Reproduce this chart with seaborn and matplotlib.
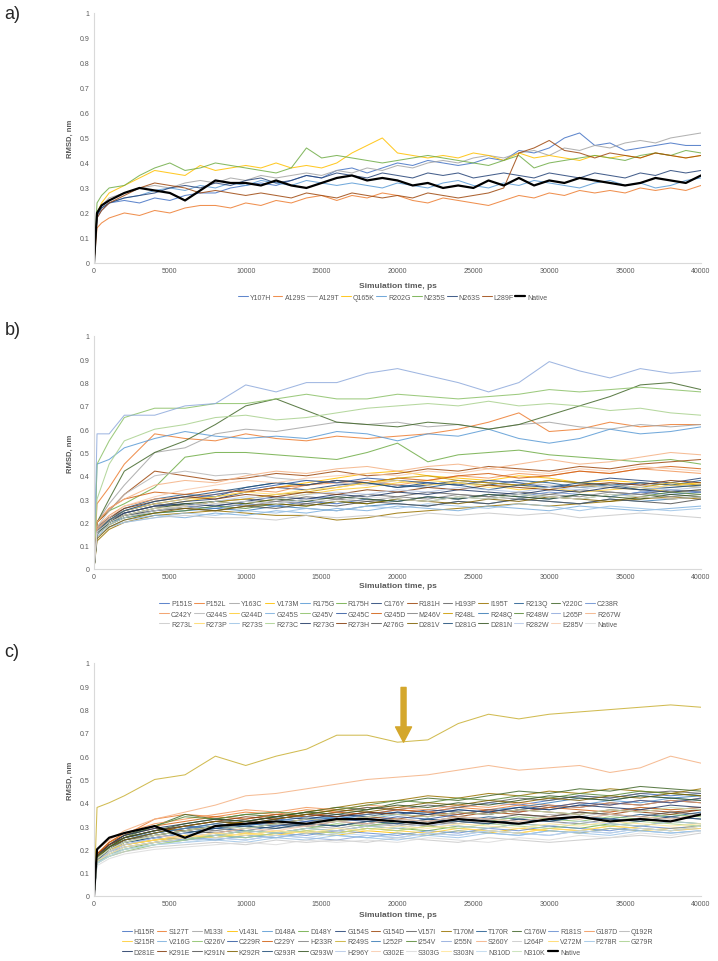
import matplotlib
matplotlib.use('Agg')
import matplotlib.pyplot as plt
import seaborn as sns

sns.set_style('white')
plt.rcParams['font.family'] = ['Liberation Sans', 'DejaVu Sans']

# === DATOS ===
# tiempos de muestreo (ps)
time_a = [0, 200, 500, 1000, 2000, 3000, 4000, 5000, 6000, 7000, 8000, 9000, 10000,
          11000, 12000, 13000, 14000, 15000, 16000, 17000, 18000, 19000, 20000,
          21000, 22000, 23000, 24000, 25000, 26000, 27000, 28000, 29000, 30000,
          31000, 32000, 33000, 34000, 35000, 36000, 37000, 38000, 39000, 40000]
time_bc = [0, 200, 1000, 2000, 4000, 6000, 8000, 10000, 12000, 14000, 16000, 18000,
           20000, 22000, 24000, 26000, 28000, 30000, 32000, 34000, 36000, 38000, 40000]

y_ticks = [0, 0.1, 0.2, 0.3, 0.4, 0.5, 0.6, 0.7, 0.8, 0.9, 1]
y_tick_labels = ['0', '0.1', '0.2', '0.3', '0.4', '0.5', '0.6', '0.7', '0.8', '0.9', '1']
x_ticks = [0, 5000, 10000, 15000, 20000, 25000, 30000, 35000, 40000]
x_tick_labels = ['0', '5000', '10000', '15000', '20000', '25000', '30000', '35000', '40000']

# paleta por defecto de Excel (orden de series)
excel_colors = ['#4472C4', '#ED7D31', '#A5A5A5', '#FFC000', '#5B9BD5', '#70AD47',
                '#264478', '#9E480E', '#636363', '#997300', '#255E91', '#43682B',
                '#698ED0', '#F1975A', '#B7B7B7', '#FFCD33', '#7CAFDD', '#8CC168',
                '#335AA1', '#D26012', '#848484', '#CC9A00', '#3B7CB5', '#5A8A39',
                '#8FAADC', '#F4B183', '#C9C9C9', '#FFD966', '#9DC3E6', '#A9D18E',
                '#203864', '#843C0C', '#525252', '#7F6000', '#1F4E79', '#375623',
                '#B4C7E7', '#F8CBAD', '#DBDBDB', '#FFE699', '#BDD7EE', '#C5E0B4']

# --- panel a) ---
names_a = ['Y107H', 'A129S', 'A129T', 'Q165K', 'R202G', 'N235S', 'N263S', 'L289F', 'Native']
rmsd_a = {
    'Y107H': [0, 0.18, 0.21, 0.24, 0.25, 0.24, 0.26, 0.25, 0.27, 0.28, 0.28, 0.30, 0.31, 0.32, 0.31,
              0.33, 0.35, 0.34, 0.37, 0.38, 0.36, 0.38, 0.40, 0.39, 0.41, 0.40, 0.39, 0.40, 0.42,
              0.41, 0.45, 0.44, 0.46, 0.50, 0.52, 0.47, 0.48, 0.45, 0.46, 0.47, 0.48, 0.47, 0.47],
    'A129S': [0, 0.14, 0.16, 0.18, 0.20, 0.19, 0.21, 0.20, 0.22, 0.23, 0.23, 0.22, 0.24, 0.23, 0.25,
              0.24, 0.26, 0.27, 0.25, 0.27, 0.26, 0.28, 0.27, 0.25, 0.24, 0.26, 0.25, 0.24, 0.23,
              0.25, 0.27, 0.26, 0.28, 0.27, 0.29, 0.28, 0.29, 0.28, 0.30, 0.29, 0.30, 0.29, 0.31],
    'A129T': [0, 0.20, 0.23, 0.26, 0.28, 0.30, 0.31, 0.30, 0.32, 0.33, 0.32, 0.34, 0.33, 0.35, 0.34,
              0.35, 0.36, 0.35, 0.37, 0.36, 0.38, 0.37, 0.39, 0.38, 0.40, 0.41, 0.40, 0.42, 0.43,
              0.42, 0.44, 0.45, 0.43, 0.46, 0.45, 0.47, 0.46, 0.48, 0.49, 0.48, 0.50, 0.51, 0.52],
    'Q165K': [0, 0.20, 0.24, 0.28, 0.31, 0.34, 0.37, 0.36, 0.35, 0.39, 0.37, 0.38, 0.39, 0.38, 0.40,
              0.38, 0.39, 0.38, 0.40, 0.44, 0.47, 0.50, 0.44, 0.43, 0.42, 0.43, 0.42, 0.44, 0.43,
              0.41, 0.44, 0.42, 0.43, 0.42, 0.41, 0.43, 0.42, 0.43, 0.42, 0.44, 0.43, 0.42, 0.43],
    'R202G': [0, 0.19, 0.22, 0.24, 0.26, 0.27, 0.29, 0.30, 0.29, 0.31, 0.30, 0.32, 0.31, 0.33, 0.32,
              0.31, 0.33, 0.32, 0.31, 0.32, 0.31, 0.30, 0.32, 0.31, 0.30, 0.32, 0.33, 0.31, 0.30,
              0.32, 0.31, 0.33, 0.32, 0.31, 0.30, 0.32, 0.33, 0.31, 0.32, 0.30, 0.31, 0.33, 0.34],
    'N235S': [0, 0.24, 0.27, 0.30, 0.31, 0.35, 0.38, 0.40, 0.37, 0.38, 0.40, 0.39, 0.38, 0.37, 0.36,
              0.38, 0.46, 0.42, 0.43, 0.42, 0.41, 0.40, 0.41, 0.42, 0.43, 0.42, 0.41, 0.40, 0.39,
              0.41, 0.43, 0.38, 0.40, 0.41, 0.42, 0.43, 0.42, 0.41, 0.43, 0.44, 0.43, 0.45, 0.44],
    'N263S': [0, 0.19, 0.22, 0.24, 0.26, 0.27, 0.28, 0.30, 0.31, 0.30, 0.32, 0.31, 0.33, 0.34, 0.32,
              0.33, 0.35, 0.34, 0.36, 0.35, 0.34, 0.36, 0.35, 0.34, 0.36, 0.35, 0.36, 0.34, 0.35,
              0.36, 0.35, 0.34, 0.36, 0.35, 0.34, 0.36, 0.35, 0.34, 0.36, 0.35, 0.37, 0.36, 0.37],
    'L289F': [0, 0.18, 0.21, 0.24, 0.27, 0.30, 0.32, 0.31, 0.30, 0.28, 0.29, 0.28, 0.27, 0.28, 0.27,
              0.26, 0.28, 0.27, 0.26, 0.28, 0.27, 0.26, 0.27, 0.26, 0.28, 0.27, 0.26, 0.27, 0.28,
              0.30, 0.44, 0.46, 0.49, 0.45, 0.44, 0.42, 0.44, 0.43, 0.42, 0.44, 0.43, 0.42, 0.43],
    'Native': [0, 0.20, 0.23, 0.25, 0.28, 0.30, 0.29, 0.28, 0.25, 0.29, 0.33, 0.32, 0.32, 0.31, 0.33,
               0.31, 0.30, 0.32, 0.34, 0.35, 0.33, 0.34, 0.33, 0.31, 0.32, 0.30, 0.31, 0.30, 0.33,
               0.31, 0.34, 0.31, 0.33, 0.32, 0.34, 0.33, 0.32, 0.31, 0.32, 0.34, 0.33, 0.32, 0.35],
}

# --- panel b) ---
names_b = ['P151S', 'P152L', 'Y163C', 'V173M', 'R175G', 'R175H', 'C176Y', 'R181H', 'H193P',
           'I195T', 'R213Q', 'Y220C', 'C238R', 'C242Y', 'G244S', 'G244D', 'G245S', 'G245V',
           'G245C', 'G245D', 'M246V', 'R248L', 'R248Q', 'R248W', 'L265P', 'R267W', 'R273L',
           'R273P', 'R273S', 'R273C', 'R273G', 'R273H', 'A276G', 'D281V', 'D281G', 'D281N',
           'R282W', 'E285V', 'Native']
rmsd_b = {
    'P151S': [0, 0.15, 0.2, 0.23, 0.25, 0.27, 0.26, 0.28, 0.27, 0.29, 0.28, 0.3, 0.29, 0.31, 0.3, 0.32, 0.31, 0.3, 0.32, 0.31, 0.33, 0.32, 0.33],
    'P152L': [0, 0.28, 0.35, 0.45, 0.58, 0.56, 0.55, 0.58, 0.56, 0.55, 0.57, 0.56, 0.57, 0.58, 0.6, 0.63, 0.67, 0.59, 0.6, 0.63, 0.61, 0.62, 0.62],
    'Y163C': [0, 0.2, 0.28, 0.36, 0.5, 0.52, 0.58, 0.6, 0.59, 0.61, 0.63, 0.62, 0.63, 0.61, 0.62, 0.6, 0.62, 0.63, 0.61, 0.6, 0.62, 0.61, 0.62],
    'V173M': [0, 0.15, 0.2, 0.24, 0.27, 0.29, 0.31, 0.33, 0.35, 0.37, 0.39, 0.41, 0.42, 0.4, 0.39, 0.38, 0.4, 0.39, 0.37, 0.38, 0.37, 0.36, 0.37],
    'R175G': [0, 0.45, 0.47, 0.52, 0.56, 0.59, 0.57, 0.56, 0.57, 0.56, 0.59, 0.58, 0.55, 0.58, 0.57, 0.6, 0.56, 0.54, 0.56, 0.6, 0.58, 0.59, 0.61],
    'R175H': [0, 0.2, 0.25, 0.28, 0.35, 0.48, 0.5, 0.5, 0.49, 0.48, 0.47, 0.5, 0.54, 0.46, 0.49, 0.5, 0.51, 0.49, 0.48, 0.47, 0.46, 0.47, 0.45],
    'C176Y': [0, 0.16, 0.21, 0.24, 0.27, 0.29, 0.3, 0.33, 0.35, 0.34, 0.36, 0.37, 0.35, 0.36, 0.38, 0.37, 0.36, 0.38, 0.37, 0.39, 0.38, 0.37, 0.39],
    'R181H': [0, 0.2, 0.25, 0.32, 0.42, 0.4, 0.38, 0.39, 0.41, 0.4, 0.42, 0.4, 0.41, 0.43, 0.42, 0.44, 0.43, 0.42, 0.44, 0.43, 0.45, 0.46, 0.47],
    'H193P': [0, 0.17, 0.22, 0.25, 0.28, 0.27, 0.29, 0.3, 0.29, 0.31, 0.3, 0.32, 0.31, 0.33, 0.32, 0.31, 0.33, 0.32, 0.34, 0.33, 0.32, 0.34, 0.33],
    'I195T': [0, 0.12, 0.17, 0.2, 0.23, 0.24, 0.25, 0.24, 0.23, 0.23, 0.21, 0.22, 0.24, 0.25, 0.26, 0.27, 0.28, 0.27, 0.28, 0.29, 0.3, 0.31, 0.3],
    'R213Q': [0, 0.18, 0.22, 0.26, 0.3, 0.32, 0.31, 0.35, 0.37, 0.36, 0.38, 0.37, 0.36, 0.35, 0.37, 0.36, 0.38, 0.37, 0.35, 0.36, 0.37, 0.36, 0.38],
    'Y220C': [0, 0.2, 0.3, 0.42, 0.5, 0.55, 0.62, 0.7, 0.73, 0.68, 0.63, 0.62, 0.61, 0.63, 0.62, 0.6, 0.62, 0.66, 0.7, 0.74, 0.79, 0.8, 0.77],
    'C238R': [0, 0.17, 0.21, 0.24, 0.27, 0.28, 0.27, 0.29, 0.28, 0.3, 0.31, 0.3, 0.29, 0.31, 0.3, 0.32, 0.31, 0.33, 0.32, 0.31, 0.33, 0.34, 0.33],
    'C242Y': [0, 0.18, 0.23, 0.27, 0.3, 0.31, 0.32, 0.34, 0.33, 0.36, 0.37, 0.38, 0.36, 0.38, 0.4, 0.39, 0.41, 0.4, 0.42, 0.41, 0.43, 0.42, 0.41],
    'G244S': [0, 0.18, 0.25, 0.32, 0.4, 0.42, 0.4, 0.41, 0.39, 0.38, 0.37, 0.36, 0.38, 0.37, 0.36, 0.38, 0.37, 0.36, 0.35, 0.37, 0.36, 0.35, 0.36],
    'G244D': [0, 0.16, 0.2, 0.23, 0.26, 0.27, 0.29, 0.28, 0.3, 0.32, 0.34, 0.35, 0.37, 0.38, 0.37, 0.36, 0.34, 0.35, 0.33, 0.34, 0.35, 0.33, 0.34],
    'G245S': [0, 0.14, 0.18, 0.21, 0.23, 0.22, 0.24, 0.23, 0.25, 0.24, 0.26, 0.25, 0.27, 0.26, 0.25, 0.27, 0.26, 0.25, 0.27, 0.26, 0.25, 0.26, 0.27],
    'G245V': [0, 0.45, 0.55, 0.65, 0.69, 0.69, 0.71, 0.71, 0.73, 0.75, 0.73, 0.73, 0.75, 0.74, 0.73, 0.74, 0.75, 0.77, 0.76, 0.77, 0.78, 0.77, 0.76],
    'G245C': [0, 0.16, 0.21, 0.25, 0.28, 0.3, 0.32, 0.34, 0.36, 0.38, 0.37, 0.39, 0.38, 0.37, 0.36, 0.38, 0.37, 0.35, 0.36, 0.35, 0.37, 0.36, 0.35],
    'G245D': [0, 0.2, 0.26, 0.3, 0.33, 0.32, 0.34, 0.33, 0.35, 0.36, 0.38, 0.37, 0.39, 0.38, 0.4, 0.41, 0.39, 0.4, 0.42, 0.41, 0.43, 0.44, 0.43],
    'M246V': [0, 0.17, 0.21, 0.24, 0.27, 0.26, 0.28, 0.27, 0.29, 0.28, 0.3, 0.29, 0.31, 0.3, 0.32, 0.31, 0.3, 0.32, 0.31, 0.33, 0.32, 0.31, 0.32],
    'R248L': [0, 0.15, 0.19, 0.22, 0.25, 0.27, 0.29, 0.3, 0.32, 0.33, 0.35, 0.37, 0.39, 0.4, 0.38, 0.37, 0.36, 0.38, 0.37, 0.36, 0.35, 0.37, 0.36],
    'R248Q': [0, 0.16, 0.2, 0.22, 0.24, 0.25, 0.26, 0.25, 0.27, 0.26, 0.25, 0.27, 0.28, 0.27, 0.29, 0.28, 0.3, 0.29, 0.28, 0.3, 0.29, 0.3, 0.31],
    'R248W': [0, 0.15, 0.19, 0.22, 0.24, 0.25, 0.27, 0.26, 0.28, 0.27, 0.29, 0.28, 0.3, 0.29, 0.31, 0.3, 0.32, 0.31, 0.3, 0.32, 0.31, 0.33, 0.32],
    'L265P': [0, 0.58, 0.58, 0.66, 0.66, 0.7, 0.71, 0.79, 0.76, 0.8, 0.8, 0.84, 0.86, 0.83, 0.8, 0.76, 0.8, 0.89, 0.85, 0.82, 0.86, 0.84, 0.85],
    'R267W': [0, 0.2, 0.26, 0.3, 0.36, 0.38, 0.37, 0.4, 0.42, 0.41, 0.43, 0.44, 0.42, 0.44, 0.45, 0.43, 0.45, 0.47, 0.45, 0.46, 0.48, 0.5, 0.49],
    'R273L': [0, 0.14, 0.18, 0.2, 0.22, 0.23, 0.22, 0.22, 0.21, 0.23, 0.22, 0.23, 0.22, 0.24, 0.23, 0.24, 0.23, 0.24, 0.22, 0.23, 0.24, 0.23, 0.22],
    'R273P': [0, 0.16, 0.21, 0.25, 0.28, 0.3, 0.31, 0.33, 0.32, 0.34, 0.35, 0.37, 0.38, 0.36, 0.37, 0.35, 0.36, 0.34, 0.36, 0.35, 0.34, 0.36, 0.35],
    'R273S': [0, 0.14, 0.18, 0.2, 0.22, 0.24, 0.23, 0.25, 0.24, 0.26, 0.25, 0.27, 0.26, 0.28, 0.27, 0.26, 0.28, 0.27, 0.25, 0.27, 0.26, 0.25, 0.26],
    'R273C': [0, 0.3, 0.45, 0.55, 0.6, 0.62, 0.65, 0.66, 0.64, 0.65, 0.67, 0.69, 0.7, 0.71, 0.7, 0.72, 0.7, 0.71, 0.7, 0.68, 0.69, 0.67, 0.66],
    'R273G': [0, 0.15, 0.2, 0.24, 0.27, 0.28, 0.27, 0.29, 0.31, 0.3, 0.32, 0.31, 0.33, 0.32, 0.34, 0.33, 0.32, 0.34, 0.33, 0.35, 0.34, 0.33, 0.34],
    'R273H': [0, 0.17, 0.22, 0.26, 0.29, 0.31, 0.3, 0.32, 0.31, 0.33, 0.32, 0.34, 0.33, 0.35, 0.34, 0.36, 0.35, 0.34, 0.36, 0.37, 0.36, 0.38, 0.37],
    'A276G': [0, 0.16, 0.2, 0.23, 0.25, 0.26, 0.25, 0.27, 0.26, 0.28, 0.27, 0.29, 0.28, 0.27, 0.29, 0.28, 0.3, 0.29, 0.28, 0.3, 0.29, 0.28, 0.3],
    'D281V': [0, 0.13, 0.18, 0.21, 0.24, 0.26, 0.25, 0.27, 0.28, 0.27, 0.29, 0.28, 0.3, 0.29, 0.28, 0.3, 0.29, 0.31, 0.3, 0.29, 0.31, 0.3, 0.31],
    'D281G': [0, 0.16, 0.21, 0.25, 0.29, 0.31, 0.33, 0.35, 0.37, 0.36, 0.38, 0.37, 0.35, 0.37, 0.36, 0.34, 0.36, 0.35, 0.37, 0.36, 0.34, 0.35, 0.36],
    'D281N': [0, 0.15, 0.2, 0.23, 0.26, 0.28, 0.29, 0.28, 0.3, 0.29, 0.31, 0.3, 0.29, 0.31, 0.3, 0.32, 0.31, 0.3, 0.32, 0.31, 0.3, 0.32, 0.31],
    'R282W': [0, 0.15, 0.19, 0.22, 0.25, 0.27, 0.29, 0.31, 0.3, 0.32, 0.33, 0.32, 0.34, 0.33, 0.35, 0.34, 0.33, 0.35, 0.34, 0.36, 0.35, 0.34, 0.35],
    'E285V': [0, 0.17, 0.22, 0.27, 0.31, 0.34, 0.36, 0.38, 0.37, 0.39, 0.4, 0.41, 0.4, 0.42, 0.41, 0.43, 0.42, 0.41, 0.43, 0.42, 0.44, 0.43, 0.42],
    'Native': [0, 0.16, 0.2, 0.23, 0.26, 0.27, 0.28, 0.29, 0.28, 0.3, 0.29, 0.31, 0.3, 0.29, 0.31, 0.3, 0.32, 0.31, 0.3, 0.32, 0.31, 0.3, 0.31],
}

# --- panel c) ---
names_c = ['H115R', 'S127T', 'M133I', 'V143L', 'D148A', 'D148Y', 'G154S', 'G154D', 'V157I',
           'T170M', 'T170R', 'C176W', 'R181S', 'G187D', 'Q192R', 'S215R', 'V216G', 'G226V',
           'C229R', 'C229Y', 'H233R', 'R249S', 'L252P', 'I254V', 'I255N', 'S260Y', 'L264P',
           'V272M', 'P278R', 'G279R', 'D281E', 'K291E', 'K291N', 'K292R', 'G293R', 'G293W',
           'H296Y', 'G302E', 'S303G', 'S303N', 'N310D', 'N310K', 'Native']
rmsd_c = {
    'H115R': [0, 0.16, 0.2, 0.23, 0.26, 0.28, 0.3, 0.31, 0.33, 0.32, 0.34, 0.35, 0.37, 0.36, 0.38, 0.4, 0.39, 0.41, 0.43, 0.42, 0.44, 0.43, 0.44],
    'S127T': [0, 0.18, 0.22, 0.26, 0.33, 0.35, 0.34, 0.36, 0.35, 0.37, 0.36, 0.38, 0.37, 0.36, 0.38, 0.37, 0.39, 0.38, 0.4, 0.39, 0.41, 0.4, 0.42],
    'M133I': [0, 0.15, 0.19, 0.22, 0.24, 0.26, 0.28, 0.27, 0.29, 0.3, 0.29, 0.31, 0.3, 0.32, 0.31, 0.33, 0.32, 0.34, 0.33, 0.35, 0.34, 0.33, 0.35],
    'V143L': [0, 0.17, 0.2, 0.22, 0.24, 0.25, 0.27, 0.26, 0.28, 0.27, 0.26, 0.28, 0.27, 0.26, 0.28, 0.27, 0.29, 0.28, 0.27, 0.29, 0.28, 0.29, 0.3],
    'D148A': [0, 0.16, 0.21, 0.25, 0.27, 0.29, 0.3, 0.32, 0.31, 0.33, 0.34, 0.33, 0.35, 0.36, 0.35, 0.37, 0.38, 0.37, 0.39, 0.41, 0.4, 0.42, 0.41],
    'D148Y': [0, 0.15, 0.18, 0.2, 0.23, 0.25, 0.26, 0.28, 0.27, 0.29, 0.28, 0.3, 0.29, 0.28, 0.3, 0.29, 0.31, 0.3, 0.29, 0.31, 0.3, 0.32, 0.31],
    'G154S': [0, 0.17, 0.22, 0.25, 0.28, 0.3, 0.32, 0.31, 0.33, 0.35, 0.34, 0.36, 0.35, 0.37, 0.36, 0.35, 0.37, 0.39, 0.38, 0.4, 0.39, 0.41, 0.4],
    'G154D': [0, 0.18, 0.23, 0.26, 0.29, 0.28, 0.3, 0.32, 0.31, 0.33, 0.32, 0.34, 0.33, 0.35, 0.34, 0.36, 0.35, 0.34, 0.36, 0.35, 0.37, 0.36, 0.37],
    'V157I': [0, 0.16, 0.21, 0.24, 0.27, 0.29, 0.31, 0.33, 0.35, 0.34, 0.36, 0.38, 0.37, 0.39, 0.38, 0.4, 0.42, 0.41, 0.43, 0.42, 0.44, 0.45, 0.44],
    'T170M': [0, 0.15, 0.2, 0.23, 0.26, 0.28, 0.3, 0.32, 0.34, 0.36, 0.38, 0.4, 0.41, 0.43, 0.42, 0.44, 0.43, 0.45, 0.44, 0.46, 0.45, 0.44, 0.46],
    'T170R': [0, 0.16, 0.2, 0.23, 0.25, 0.27, 0.29, 0.28, 0.3, 0.31, 0.3, 0.32, 0.31, 0.33, 0.32, 0.34, 0.33, 0.32, 0.34, 0.33, 0.35, 0.34, 0.36],
    'C176W': [0, 0.17, 0.22, 0.26, 0.3, 0.35, 0.33, 0.35, 0.34, 0.36, 0.38, 0.37, 0.4, 0.42, 0.41, 0.43, 0.45, 0.44, 0.46, 0.45, 0.47, 0.46, 0.45],
    'R181S': [0, 0.15, 0.19, 0.22, 0.25, 0.24, 0.26, 0.25, 0.27, 0.26, 0.28, 0.27, 0.26, 0.28, 0.27, 0.29, 0.28, 0.3, 0.29, 0.28, 0.3, 0.29, 0.3],
    'G187D': [0, 0.18, 0.23, 0.27, 0.31, 0.33, 0.35, 0.37, 0.36, 0.38, 0.37, 0.39, 0.38, 0.37, 0.39, 0.38, 0.4, 0.39, 0.38, 0.4, 0.39, 0.41, 0.4],
    'Q192R': [0, 0.15, 0.18, 0.21, 0.23, 0.25, 0.24, 0.26, 0.25, 0.27, 0.28, 0.3, 0.31, 0.3, 0.32, 0.31, 0.33, 0.35, 0.34, 0.36, 0.38, 0.37, 0.38],
    'S215R': [0, 0.16, 0.2, 0.22, 0.24, 0.26, 0.25, 0.27, 0.26, 0.28, 0.27, 0.29, 0.28, 0.27, 0.29, 0.28, 0.27, 0.29, 0.28, 0.3, 0.29, 0.28, 0.3],
    'V216G': [0, 0.14, 0.18, 0.21, 0.23, 0.25, 0.24, 0.26, 0.25, 0.27, 0.26, 0.25, 0.27, 0.26, 0.28, 0.27, 0.26, 0.28, 0.27, 0.29, 0.28, 0.27, 0.28],
    'G226V': [0, 0.15, 0.17, 0.19, 0.22, 0.24, 0.26, 0.28, 0.27, 0.29, 0.31, 0.3, 0.32, 0.31, 0.33, 0.32, 0.34, 0.33, 0.32, 0.34, 0.33, 0.35, 0.34],
    'C229R': [0, 0.17, 0.22, 0.25, 0.28, 0.3, 0.29, 0.31, 0.3, 0.32, 0.33, 0.32, 0.34, 0.33, 0.35, 0.37, 0.36, 0.38, 0.4, 0.39, 0.41, 0.4, 0.42],
    'C229Y': [0, 0.18, 0.23, 0.27, 0.3, 0.32, 0.34, 0.33, 0.35, 0.34, 0.36, 0.35, 0.37, 0.36, 0.35, 0.37, 0.36, 0.38, 0.37, 0.36, 0.38, 0.37, 0.38],
    'H233R': [0, 0.16, 0.2, 0.24, 0.27, 0.29, 0.28, 0.3, 0.29, 0.31, 0.3, 0.32, 0.31, 0.3, 0.32, 0.31, 0.33, 0.32, 0.31, 0.33, 0.32, 0.34, 0.33],
    'R249S': [0, 0.38, 0.4, 0.43, 0.5, 0.52, 0.6, 0.56, 0.6, 0.63, 0.69, 0.69, 0.66, 0.67, 0.74, 0.78, 0.76, 0.78, 0.79, 0.8, 0.81, 0.82, 0.81],
    'L252P': [0, 0.16, 0.21, 0.24, 0.27, 0.29, 0.31, 0.3, 0.32, 0.34, 0.33, 0.35, 0.36, 0.35, 0.37, 0.36, 0.38, 0.4, 0.42, 0.41, 0.43, 0.42, 0.43],
    'I254V': [0, 0.17, 0.21, 0.25, 0.3, 0.34, 0.33, 0.35, 0.36, 0.35, 0.37, 0.39, 0.41, 0.4, 0.42, 0.41, 0.43, 0.42, 0.44, 0.43, 0.45, 0.44, 0.43],
    'I255N': [0, 0.15, 0.19, 0.21, 0.23, 0.24, 0.25, 0.24, 0.26, 0.25, 0.24, 0.26, 0.25, 0.27, 0.26, 0.28, 0.27, 0.26, 0.28, 0.27, 0.29, 0.28, 0.29],
    'S260Y': [0, 0.2, 0.24, 0.28, 0.33, 0.36, 0.39, 0.43, 0.44, 0.46, 0.48, 0.5, 0.51, 0.52, 0.54, 0.56, 0.54, 0.55, 0.56, 0.53, 0.55, 0.6, 0.57],
    'L264P': [0, 0.14, 0.17, 0.19, 0.21, 0.22, 0.23, 0.22, 0.24, 0.23, 0.24, 0.23, 0.25, 0.24, 0.23, 0.25, 0.24, 0.23, 0.24, 0.25, 0.26, 0.25, 0.27],
    'V272M': [0, 0.16, 0.19, 0.22, 0.24, 0.26, 0.25, 0.27, 0.26, 0.28, 0.27, 0.29, 0.28, 0.3, 0.29, 0.28, 0.27, 0.29, 0.28, 0.3, 0.29, 0.28, 0.29],
    'P278R': [0, 0.14, 0.18, 0.2, 0.22, 0.23, 0.24, 0.23, 0.25, 0.24, 0.26, 0.25, 0.24, 0.26, 0.25, 0.27, 0.26, 0.28, 0.27, 0.26, 0.28, 0.27, 0.28],
    'G279R': [0, 0.14, 0.17, 0.2, 0.22, 0.24, 0.26, 0.25, 0.27, 0.28, 0.27, 0.29, 0.28, 0.3, 0.29, 0.31, 0.3, 0.29, 0.31, 0.3, 0.32, 0.31, 0.3],
    'D281E': [0, 0.17, 0.22, 0.26, 0.29, 0.31, 0.33, 0.32, 0.34, 0.33, 0.35, 0.34, 0.36, 0.35, 0.37, 0.36, 0.38, 0.37, 0.39, 0.38, 0.37, 0.39, 0.38],
    'K291E': [0, 0.18, 0.22, 0.25, 0.28, 0.3, 0.32, 0.34, 0.33, 0.35, 0.34, 0.36, 0.35, 0.34, 0.36, 0.35, 0.37, 0.36, 0.35, 0.37, 0.36, 0.35, 0.37],
    'K291N': [0, 0.16, 0.2, 0.24, 0.26, 0.28, 0.27, 0.29, 0.31, 0.3, 0.32, 0.31, 0.33, 0.32, 0.34, 0.33, 0.35, 0.34, 0.36, 0.35, 0.34, 0.36, 0.35],
    'K292R': [0, 0.17, 0.21, 0.24, 0.27, 0.3, 0.32, 0.31, 0.33, 0.35, 0.37, 0.36, 0.38, 0.4, 0.39, 0.41, 0.4, 0.42, 0.41, 0.43, 0.42, 0.44, 0.43],
    'G293R': [0, 0.15, 0.2, 0.23, 0.25, 0.27, 0.29, 0.3, 0.29, 0.31, 0.3, 0.32, 0.31, 0.33, 0.32, 0.31, 0.33, 0.32, 0.34, 0.33, 0.32, 0.34, 0.33],
    'G293W': [0, 0.16, 0.21, 0.25, 0.28, 0.31, 0.33, 0.32, 0.34, 0.36, 0.35, 0.37, 0.39, 0.38, 0.4, 0.39, 0.41, 0.43, 0.42, 0.41, 0.43, 0.42, 0.41],
    'H296Y': [0, 0.15, 0.19, 0.22, 0.25, 0.27, 0.26, 0.28, 0.27, 0.29, 0.28, 0.3, 0.29, 0.31, 0.3, 0.29, 0.31, 0.3, 0.32, 0.31, 0.3, 0.32, 0.31],
    'G302E': [0, 0.16, 0.2, 0.23, 0.26, 0.25, 0.27, 0.29, 0.28, 0.3, 0.32, 0.31, 0.33, 0.32, 0.34, 0.33, 0.32, 0.34, 0.33, 0.35, 0.34, 0.33, 0.35],
    'S303G': [0, 0.13, 0.16, 0.18, 0.2, 0.21, 0.22, 0.23, 0.22, 0.24, 0.23, 0.24, 0.23, 0.25, 0.24, 0.23, 0.25, 0.24, 0.26, 0.25, 0.27, 0.26, 0.28],
    'S303N': [0, 0.15, 0.18, 0.21, 0.23, 0.25, 0.27, 0.26, 0.28, 0.27, 0.29, 0.28, 0.3, 0.29, 0.31, 0.3, 0.29, 0.31, 0.3, 0.32, 0.31, 0.3, 0.31],
    'N310D': [0, 0.14, 0.17, 0.2, 0.22, 0.23, 0.25, 0.24, 0.26, 0.25, 0.27, 0.26, 0.25, 0.27, 0.26, 0.28, 0.27, 0.26, 0.28, 0.27, 0.29, 0.28, 0.3],
    'N310K': [0, 0.16, 0.2, 0.23, 0.26, 0.28, 0.3, 0.29, 0.31, 0.33, 0.32, 0.34, 0.35, 0.34, 0.36, 0.35, 0.37, 0.36, 0.35, 0.37, 0.36, 0.38, 0.37],
    'Native': [0, 0.2, 0.25, 0.27, 0.3, 0.25, 0.3, 0.31, 0.32, 0.31, 0.33, 0.33, 0.32, 0.31, 0.33, 0.32, 0.31, 0.33, 0.34, 0.32, 0.33, 0.32, 0.35],
}

# flecha del panel c)
arrow_x = 20400
arrow_y_top = 0.895
arrow_y_tip = 0.66

gris = '#595959'

# === FIGURA ===
fig = plt.figure(figsize=(7.18, 9.62), dpi=100)

# posiciones de cada panel (izq, abajo, ancho, alto) y de su leyenda
paneles = [
    ('a)', time_a, names_a, rmsd_a, '#000000', [0.1309, 0.7256, 0.8454, 0.2599], 9, (0.547, 0.690), 0.985, -0.092),
    ('b)', time_bc, names_b, rmsd_b, '#DBDBDB', [0.1309, 0.4075, 0.8454, 0.2422], 13, (0.543, 0.3607), 0.656, -0.073),
    ('c)', time_bc, names_c, rmsd_c, '#000000', [0.1309, 0.0676, 0.8454, 0.2422], 15, (0.540, 0.0198), 0.322, -0.0815),
]

axes = []
for letra, tiempo, nombres, datos, col_native, pos, ncol, leg_xy, letra_y, xlab_y in paneles:
    ax = fig.add_axes(pos)
    axes.append(ax)
    colores = excel_colors[:len(nombres) - 1] + [col_native]
    if letra == 'c)':
        colores[nombres.index('R249S')] = '#C9B034'  # la curva dorada se ve más clara
    for nombre, color in zip(nombres, colores):
        grueso = nombre == 'Native' and col_native == '#000000'
        sns.lineplot(x=tiempo, y=datos[nombre], ax=ax, color=color,
                     linewidth=1.6 if grueso else 0.75, alpha=1 if grueso else 0.85,
                     label=nombre, estimator=None, sort=False)

    ax.set_xlim(0, 40000)
    ax.set_ylim(0, 1)
    ax.set_yticks(y_ticks)
    ax.set_yticklabels(y_tick_labels)
    ax.set_xticks(x_ticks)
    ax.set_xticklabels(x_tick_labels)
    ax.tick_params(length=0, labelsize=5, labelcolor=gris, pad=3)
    for lado in ['top', 'right']:
        ax.spines[lado].set_visible(False)
    for lado in ['left', 'bottom']:
        ax.spines[lado].set_color('#D9D9D9')
        ax.spines[lado].set_linewidth(0.8)

    ax.set_xlabel('Simulation time, ps', fontsize=6, fontweight='bold', color=gris)
    ax.set_ylabel('RMSD, nm', fontsize=5.5, fontweight='bold', color=gris)
    ax.xaxis.set_label_coords(0.5, xlab_y)
    ax.xaxis.label.set_va('center')
    ax.yaxis.set_label_coords(-0.033, 0.5)

    # leyenda por filas, como en Excel (matplotlib llena por columnas)
    handles, labels = ax.get_legend_handles_labels()
    nfilas = -(-len(labels) // ncol)
    orden = [f * ncol + c for c in range(ncol) for f in range(nfilas) if f * ncol + c < len(labels)]
    ax.legend([handles[i] for i in orden], [labels[i] for i in orden], ncol=ncol,
              loc='center', bbox_to_anchor=leg_xy, bbox_transform=fig.transFigure,
              frameon=False, fontsize=5, handlelength=1.4, handletextpad=0.3,
              columnspacing=0.2, labelspacing=0.45, labelcolor=gris)

    fig.text(0.006, letra_y, letra, fontsize=13, va='center', ha='left')

# flecha dorada que señala el evento en c)
axes[2].annotate('', xy=(arrow_x, arrow_y_tip), xytext=(arrow_x, arrow_y_top),
                 arrowprops=dict(width=3.6, headwidth=11.5, headlength=11,
                                 color='#D4A72C', shrink=0))

fig.savefig('out.png', dpi=100)
